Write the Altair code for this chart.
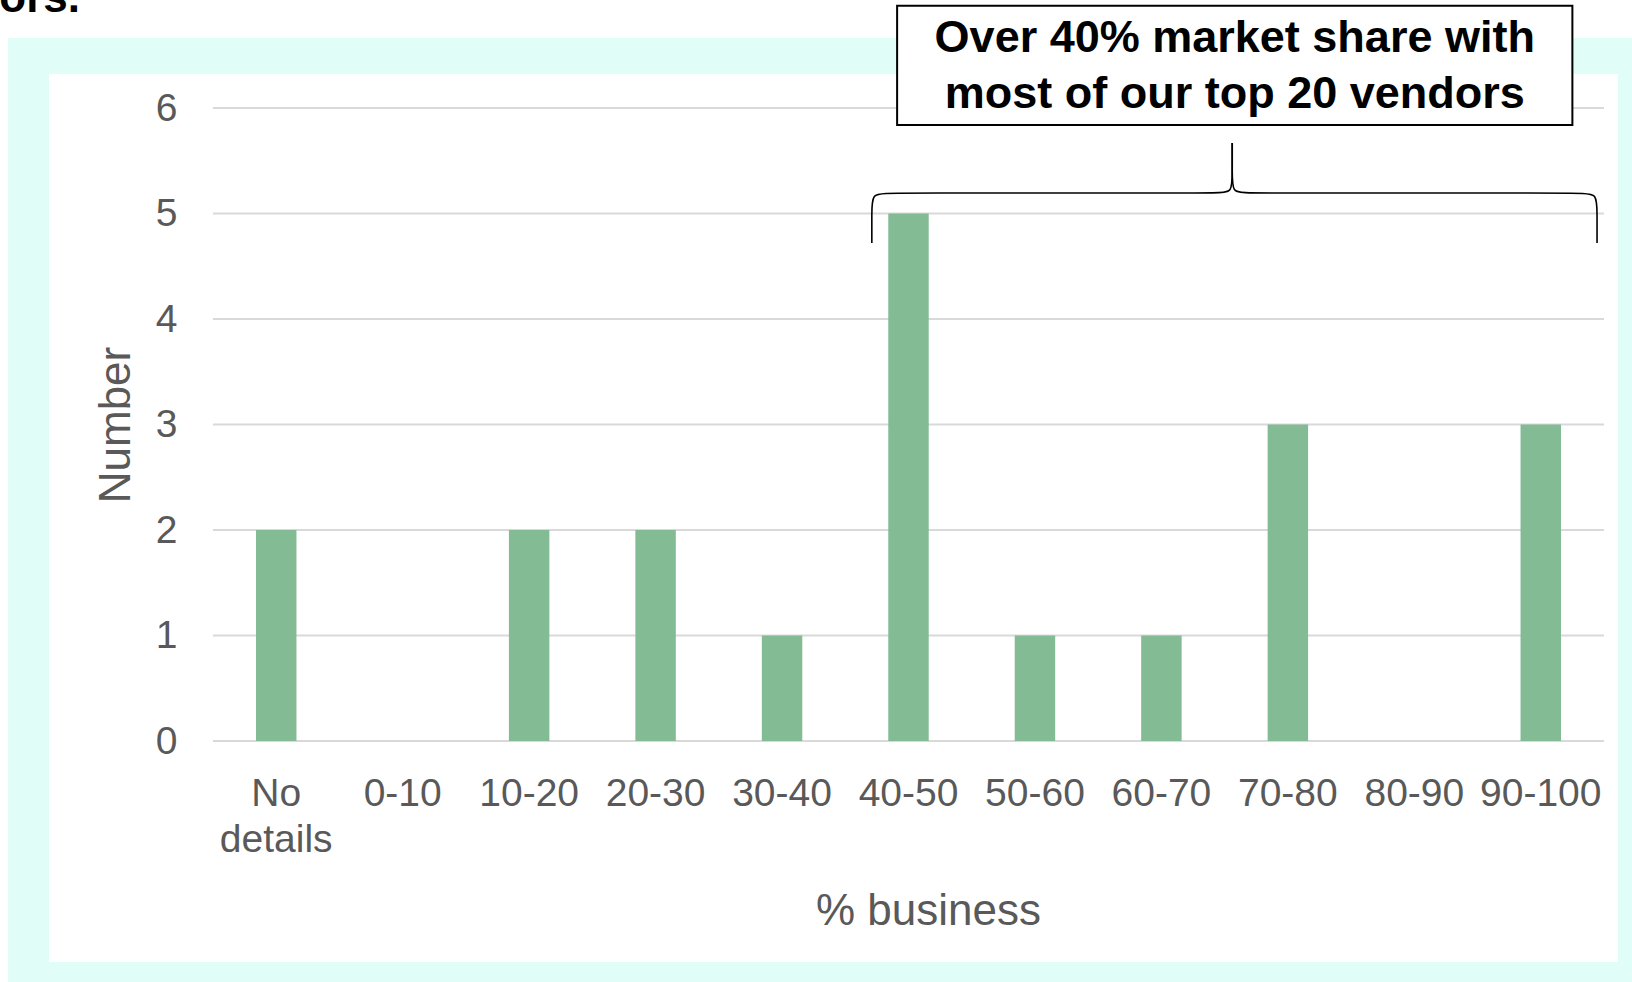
import altair as alt
import pandas as pd

# ---- data ----
categories = ["No details", "0-10", "10-20", "20-30", "30-40", "40-50",
              "50-60", "60-70", "70-80", "80-90", "90-100"]
counts = [2, 0, 2, 2, 1, 5, 1, 1, 3, 0, 3]
y_ticks = [0, 1, 2, 3, 4, 5, 6]

# annotation brace (x in category-slot units 0..11, y in data units)
brace_side = ["left"] * 8 + ["right"] * 8
brace_order = list(range(8)) + list(range(8))
brace_x = [5.21, 5.21, 5.21, 5.33, 7.96, 8.06, 8.06, 8.06,
           10.945, 10.945, 10.945, 10.825, 8.16, 8.06, 8.06, 8.06]
brace_y = [4.72, 5.00, 5.194, 5.194, 5.194, 5.194, 5.40, 5.668,
           4.72, 5.00, 5.194, 5.194, 5.194, 5.194, 5.40, 5.668]

# annotation box and its text
box_x = [5.41]
box_x2 = [10.75]
box_y = [5.84]
box_y2 = [6.97]
note_lines = ["Over 40% market share with", "most of our top 20 vendors"]
note_x = [8.08, 8.08]
note_y = [6.531, 6.0]

W, H = 1391, 633
FONT = "Liberation Sans"
GRAY = "#595959"

yscale = alt.Scale(domain=[0, 6], nice=False, zero=True)
xslot = alt.Scale(domain=[0, 11], nice=False, zero=False)

one = pd.DataFrame({"a": [0]})

cyan = alt.Chart(one).mark_rect(color="#E1FDF8").encode(
    x=alt.value(-205), x2=alt.value(1419), y=alt.value(-70), y2=alt.value(874)
)
white = alt.Chart(one).mark_rect(color="#FFFFFF").encode(
    x=alt.value(-164), x2=alt.value(1405), y=alt.value(-34), y2=alt.value(854)
)

yaxis = alt.Axis(
    title="Number",
    orient="left",
    zindex=2,
    values=y_ticks,
    format="d",
    labelFont=FONT,
    labelFontSize=39,
    labelColor=GRAY,
    labelPadding=36,
    ticks=False,
    tickSize=0,
    domain=False,
    grid=False,
    titleFont=FONT,
    titleFontSize=44,
    titleFontWeight="normal",
    titleColor=GRAY,
    titleAngle=270,
    titleX=-97,
    titleY=316.5,
    titleAlign="center",
    titleBaseline="middle",
)

grid = alt.Chart(pd.DataFrame({"v": y_ticks})).mark_rule(
    color="#D9D9D9", strokeWidth=2
).encode(
    y=alt.Y("v:Q", scale=yscale, axis=None),
    x=alt.value(0),
    x2=alt.value(W),
)

df = pd.DataFrame({"cat": categories, "n": counts})
bars = alt.Chart(df).mark_bar(color="#83BB95").encode(
    x=alt.X(
        "cat:N",
        sort=categories,
        scale=alt.Scale(paddingInner=0.68, paddingOuter=0.34),
        axis=alt.Axis(
            title="% business",
            orient="bottom",
            zindex=2,
            labelAngle=0,
            labelFont=FONT,
            labelFontSize=39,
            labelColor=GRAY,
            labelPadding=33,
            labelLineHeight=46,
            labelOverlap=False,
            labelLimit=400,
            labelExpr="datum.value == 'No details' ? ['No', 'details'] : datum.label",
            ticks=False,
            tickSize=0,
            domain=False,
            grid=False,
            titleFont=FONT,
            titleFontSize=44,
            titleFontWeight="normal",
            titleColor=GRAY,
            titleX=715,
            titleY=183,
            titleAlign="center",
            titleBaseline="alphabetic",
        ),
    ),
    y=alt.Y("n:Q", scale=yscale, axis=yaxis),
)

bdf = pd.DataFrame({"side": brace_side, "o": brace_order, "bx": brace_x, "by": brace_y})
brace = alt.Chart(bdf).mark_line(
    color="black", strokeWidth=1.6, interpolate="basis"
).encode(
    x=alt.X("bx:Q", scale=xslot, axis=None),
    y=alt.Y("by:Q", scale=yscale, axis=None),
    detail="side:N",
    order="o:Q",
)

boxdf = pd.DataFrame({"x1": box_x, "x2": box_x2, "y1": box_y, "y2": box_y2})
box = alt.Chart(boxdf).mark_rect(fill="white", stroke="black", strokeWidth=2).encode(
    x=alt.X("x1:Q", scale=xslot, axis=None),
    x2="x2:Q",
    y=alt.Y("y1:Q", scale=yscale, axis=None),
    y2="y2:Q",
)

ndf = pd.DataFrame({"t": note_lines, "tx": note_x, "ty": note_y})
note = alt.Chart(ndf).mark_text(
    font=FONT, fontSize=45, fontWeight="bold", color="black",
    align="center", baseline="alphabetic"
).encode(
    x=alt.X("tx:Q", scale=xslot, axis=None),
    y=alt.Y("ty:Q", scale=yscale, axis=None),
    text="t:N",
)

toptext = alt.Chart(one).mark_text(
    font=FONT, fontSize=44, fontWeight="bold", color="black",
    align="right", baseline="alphabetic"
).encode(
    x=alt.value(-133), y=alt.value(-96), text=alt.value("ors.")
)

chart = alt.layer(
    cyan, white, grid, bars, brace, box, note, toptext
).resolve_scale(
    x="independent"
).resolve_axis(
    y="independent"
).properties(
    width=W,
    height=H,
    padding={"left": 213, "top": 108, "right": 28, "bottom": 241},
    autosize=alt.AutoSizeParams(type="none"),
    background="white",
).configure_view(stroke=None).configure_axis(zindex=2)

chart.save("out.html", embed_options={"renderer": "svg", "actions": False})
